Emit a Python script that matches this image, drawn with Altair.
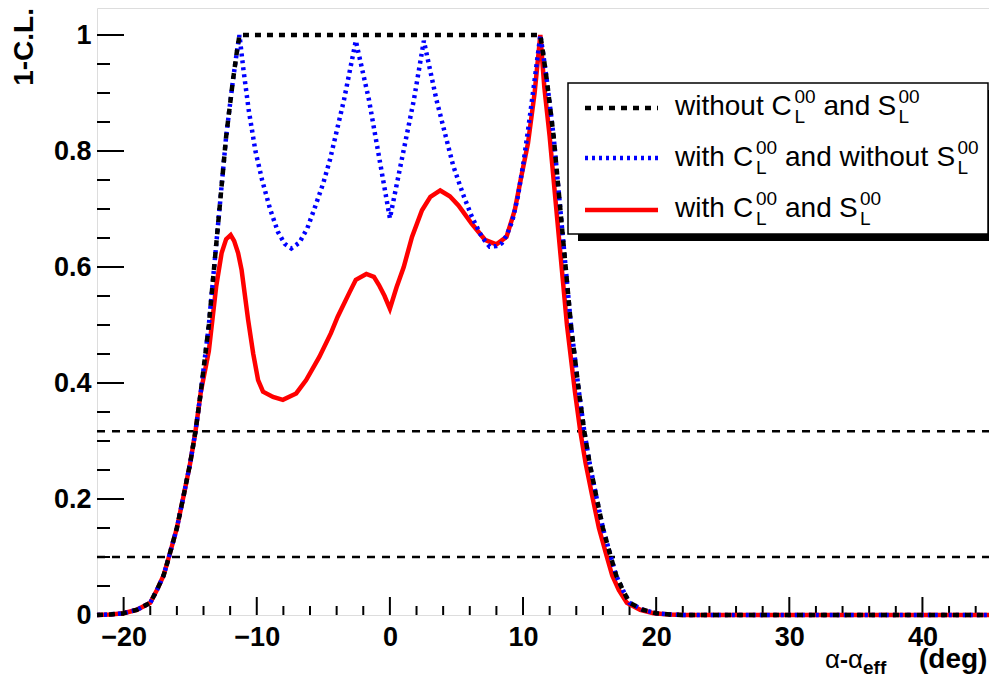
import altair as alt
import pandas as pd

FONT = "Liberation Sans"

# ---------------- data ----------------
x_without = [-22, -21, -20, -19, -18, -17.5, -17, -16.6, -16, -15.5, -15, -14.6, -14.2, -13.6, -13.0, -12.3, -11.8, -11.5, -11.3,
             11.3, 11.5, 11.8, 12.3, 13.0, 13.6, 14.2, 14.6, 15.0, 15.5, 16.0, 16.6, 17.0, 17.5, 18, 19, 20, 21, 22, 45]
y_without = [0, 0.001, 0.003, 0.009, 0.021, 0.043, 0.068, 0.10, 0.15, 0.205, 0.262, 0.317, 0.385, 0.50, 0.65, 0.825, 0.92, 0.97, 1.0,
             1.0, 0.97, 0.92, 0.825, 0.65, 0.50, 0.385, 0.317, 0.262, 0.205, 0.15, 0.10, 0.068, 0.043, 0.021, 0.009, 0.003, 0.001, 0, 0]

x_with_c = [-22, -21, -20, -19, -18, -17.5, -17, -16.6, -16, -15.5, -15, -14.6, -14.2, -13.6, -13.0, -12.3, -11.8, -11.5, -11.3,
            -11.0, -10.6, -10.1, -9.6, -9.0, -8.4, -7.9, -7.4, -6.8, -6.2, -5.6, -5.0, -4.5, -3.45, -2.56, -1.57, -0.7,
            0.0, 0.8, 1.8, 2.55, 3.5, 4.75, 5.5, 6.15, 6.9, 7.5, 8.0, 8.4, 8.8, 9.2, 9.6, 10.0, 10.4, 10.8, 11.3,
            11.5, 11.8, 12.3, 13.0, 13.6, 14.2, 14.6, 15.0, 15.5, 16.0, 16.6, 17.0, 17.5, 18, 19, 20, 21, 22, 45]
y_with_c = [0, 0.001, 0.003, 0.009, 0.021, 0.043, 0.068, 0.10, 0.15, 0.205, 0.262, 0.317, 0.385, 0.50, 0.65, 0.825, 0.92, 0.97, 1.0,
            0.94, 0.87, 0.80, 0.75, 0.70, 0.66, 0.64, 0.632, 0.642, 0.667, 0.705, 0.745, 0.785, 0.888, 0.99, 0.888, 0.775,
            0.684, 0.775, 0.888, 0.99, 0.888, 0.775, 0.725, 0.687, 0.652, 0.635, 0.636, 0.641, 0.656, 0.68, 0.72, 0.775, 0.84, 0.91, 1.0,
            0.97, 0.92, 0.825, 0.65, 0.50, 0.385, 0.317, 0.262, 0.205, 0.15, 0.10, 0.068, 0.043, 0.021, 0.009, 0.003, 0.001, 0, 0]

x_with_cs = [-22, -21, -20, -19, -18, -17.5, -17, -16.6, -16, -15.5, -15, -14.6, -14.2, -13.6, -13.05, -12.64, -12.3, -11.96,
             -11.7, -11.4, -11.14, -10.65, -10.27, -9.9, -9.53, -8.78, -8.04, -7.04, -6.29, -5.3, -4.43, -3.93, -3.06, -2.56,
             -1.77, -1.2, -0.82, -0.4, 0.0, 0.5, 1.04, 1.66, 2.41, 3.04, 3.78, 4.5, 5.15, 6.14, 7.14, 8.0, 8.76, 9.38, 9.87,
             10.37, 10.87, 11.3, 11.6, 12.0, 12.7, 13.3, 13.9, 14.3, 14.7, 15.2, 15.7, 16.3, 16.7, 17.2, 17.8, 18.8, 19.8, 21, 22, 45]
y_with_cs = [0, 0.001, 0.003, 0.009, 0.021, 0.043, 0.068, 0.10, 0.15, 0.205, 0.262, 0.317, 0.385, 0.455, 0.566, 0.624, 0.648, 0.655,
             0.645, 0.624, 0.595, 0.509, 0.451, 0.405, 0.385, 0.376, 0.371, 0.382, 0.405, 0.445, 0.486, 0.514, 0.555, 0.578,
             0.588, 0.583, 0.569, 0.55, 0.528, 0.565, 0.60, 0.652, 0.698, 0.721, 0.732, 0.722, 0.706, 0.675, 0.647, 0.639, 0.652, 0.698, 0.756,
             0.813, 0.90, 1.0, 0.91, 0.825, 0.65, 0.50, 0.385, 0.317, 0.262, 0.205, 0.15, 0.10, 0.068, 0.043, 0.021, 0.009, 0.003, 0.001, 0, 0]

cl_levels = [0.317, 0.1]
x_major = [-20, -10, 0, 10, 20, 30, 40]
x_minor = [v for v in range(-20, 45, 2) if v % 10 != 0]
y_major = [0, 0.2, 0.4, 0.6, 0.8, 1.0]
y_minor = [round(0.05 * i, 2) for i in range(21) if i % 4 != 0]

# ---------------- layout ----------------
# total svg width must stay <= 981 px (page body width) so it is not rescaled
W, H = 892, 607
PL, PT = 89, 0          # padding -> plot origin at page (97, 8)
OX, OY = 8 + PL, 8 + PT


def px(x):
    return x - OX


def py(y):
    return y - OY


xscale = alt.Scale(domain=[-22, 45], nice=False, zero=False)
yscale = alt.Scale(domain=[0, 1.0466], nice=False, zero=False)
xaxis = alt.Axis(values=x_major, title=None, domain=False, ticks=False, grid=False,
                 labelFont=FONT, labelFontWeight="bold", labelFontSize=27, labelColor="black",
                 labelPadding=9, labelFlush=False, labelOverlap=False, labelBound=False)
yaxis = alt.Axis(values=y_major, title=None, domain=False, ticks=False, grid=False, format=".1~f",
                 labelFont=FONT, labelFontWeight="bold", labelFontSize=27, labelColor="black",
                 labelPadding=6, labelFlush=False, labelOverlap=False, labelBound=False)


def X(f):
    return alt.X(f, type="quantitative", scale=xscale, axis=xaxis)


def Y(f):
    return alt.Y(f, type="quantitative", scale=yscale, axis=yaxis)


def series(xs, ys):
    return pd.DataFrame({"x": xs, "y": ys, "i": list(range(len(xs)))})


one = pd.DataFrame({"a": [0]})

layers = []

# ticks (inward, ROOT style)
layers.append(alt.Chart(pd.DataFrame({"v": y_major})).mark_rule(color="black", strokeWidth=2)
              .encode(y=Y("v"), x=alt.value(0), x2=alt.value(27)))
layers.append(alt.Chart(pd.DataFrame({"v": y_minor})).mark_rule(color="black", strokeWidth=2)
              .encode(y=Y("v"), x=alt.value(0), x2=alt.value(13)))
layers.append(alt.Chart(pd.DataFrame({"v": x_major})).mark_rule(color="black", strokeWidth=2)
              .encode(x=X("v"), y=alt.value(H), y2=alt.value(H - 18)))
layers.append(alt.Chart(pd.DataFrame({"v": x_minor})).mark_rule(color="black", strokeWidth=2)
              .encode(x=X("v"), y=alt.value(H), y2=alt.value(H - 9)))

# confidence level lines
layers.append(alt.Chart(pd.DataFrame({"v": cl_levels})).mark_rule(color="black", strokeWidth=2.5, strokeDash=[8, 7])
              .encode(y=Y("v"), x=alt.value(0), x2=alt.value(W)))

# curves
layers.append(alt.Chart(series(x_with_cs, y_with_cs)).mark_line(color="#ff0000", strokeWidth=4.5)
              .encode(x=X("x"), y=Y("y"), order="i:Q"))
layers.append(alt.Chart(series(x_with_c, y_with_c)).mark_line(color="#0000ff", strokeWidth=4.5, strokeDash=[3, 4])
              .encode(x=X("x"), y=Y("y"), order="i:Q"))
layers.append(alt.Chart(series(x_without, y_without)).mark_line(color="black", strokeWidth=4.5, strokeDash=[6, 6])
              .encode(x=X("x"), y=Y("y"), order="i:Q"))

# legend box with shadow
layers.append(alt.Chart(one).mark_rect(color="black")
              .encode(x=alt.value(px(578)), x2=alt.value(px(992)), y=alt.value(py(90)), y2=alt.value(py(241))))
layers.append(alt.Chart(one).mark_rect(fill="white", stroke="black", strokeWidth=1.5)
              .encode(x=alt.value(px(568)), x2=alt.value(px(988)), y=alt.value(py(83)), y2=alt.value(py(234))))

# legend samples
samples = [(108, "black", [6, 6], 4.5), (158, "#0000ff", [3, 4], 4.5), (210, "#ff0000", None, 4.5)]
for yy, col, dash, sw in samples:
    kw = dict(color=col, strokeWidth=sw)
    if dash:
        kw["strokeDash"] = dash
    layers.append(alt.Chart(one).mark_rule(**kw)
                  .encode(x=alt.value(px(585)), x2=alt.value(px(658)), y=alt.value(py(yy))))


def txt(s, x, y, size, weight="normal", align="left", angle=0):
    return alt.Chart(one).mark_text(text=s, font=FONT, fontSize=size, fontWeight=weight, align=align,
                                    baseline="alphabetic", color="black", angle=angle
                                    ).encode(x=alt.value(px(x)), y=alt.value(py(y)))


def script(x, base):
    return [txt("00", x, base - 12.5, 19), txt("L", x, base + 8, 19)]


# row 1
b = 115
layers += [txt("without", 675, b, 28), txt("C", 771.5, b, 28)] + script(794.5, b)
layers += [txt("and", 823.5, b, 28), txt("S", 877.5, b, 28)] + script(898.5, b)
# row 2
b = 166
layers += [txt("with", 675, b, 28), txt("C", 733, b, 28)] + script(756, b)
layers += [txt("and without", 785, b, 28), txt("S", 936.5, b, 28)] + script(957.5, b)
# row 3
b = 217
layers += [txt("with", 675, b, 28), txt("C", 733, b, 28)] + script(756, b)
layers += [txt("and", 785, b, 28), txt("S", 839, b, 28)] + script(860, b)

# axis titles
layers.append(txt("1-C.L.", 33, 8, 28, weight="bold", align="right", angle=270))
layers += [txt("α", 825, 668, 26), txt("-", 840, 668, 24, weight="bold"), txt("α", 848, 668, 26),
           txt("eff", 863, 674, 19, weight="bold"), txt("(deg)", 919, 668, 28, weight="bold")]

chart = alt.layer(*layers).properties(
    width=W, height=H,
    autosize=alt.AutoSizeParams(type="none"),
    padding={"left": PL, "top": PT, "right": 0, "bottom": 62},
).configure_view(stroke="black", strokeWidth=2).configure(background="white")

chart.save("out.html", embed_options={"renderer": "svg", "actions": False})
